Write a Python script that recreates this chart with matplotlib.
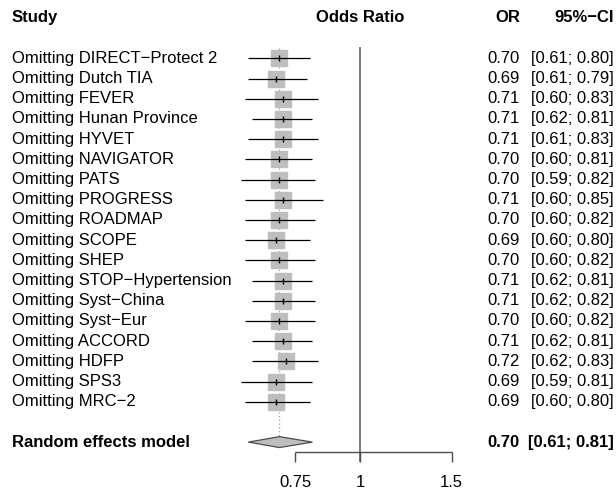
import matplotlib
matplotlib.use('Agg')
import matplotlib.pyplot as plt
import matplotlib.transforms as mtransforms
from matplotlib.patches import Polygon

plt.rcParams['font.family'] = ['Liberation Sans', 'DejaVu Sans']

# Datos (leave-one-out)
estudios = ['DIRECT−Protect 2', 'Dutch TIA', 'FEVER', 'Hunan Province', 'HYVET',
            'NAVIGATOR', 'PATS', 'PROGRESS', 'ROADMAP', 'SCOPE', 'SHEP',
            'STOP−Hypertension', 'Syst−China', 'Syst−Eur', 'ACCORD', 'HDFP',
            'SPS3', 'MRC−2']
or_vals = [0.70, 0.69, 0.71, 0.71, 0.71, 0.70, 0.70, 0.71, 0.70, 0.69, 0.70,
           0.71, 0.71, 0.70, 0.71, 0.72, 0.69, 0.69]
ci_low = [0.61, 0.61, 0.60, 0.62, 0.61, 0.60, 0.59, 0.60, 0.60, 0.60, 0.60,
          0.62, 0.62, 0.60, 0.62, 0.62, 0.59, 0.60]
ci_high = [0.80, 0.79, 0.83, 0.81, 0.83, 0.81, 0.82, 0.85, 0.82, 0.80, 0.82,
           0.81, 0.82, 0.82, 0.81, 0.83, 0.81, 0.80]
re_or, re_low, re_high = 0.70, 0.61, 0.81
ticks = [0.75, 1, 1.5]
tick_labels = ['0.75', '1', '1.5']

W, H = 616, 492
fig = plt.figure(figsize=(W / 100, H / 100), dpi=100)

# Eje del forest plot: escala log, filas en unidades de fila
ax_l, ax_r = 230, 480
ax = fig.add_axes([ax_l / W, 0, (ax_r - ax_l) / W, 1])
ax.set_xscale('log')
ax.set_xlim(0.5625, 1.70)
y0, dy = 58.3, 20.2
ax.set_ylim((H - y0) / dy, -y0 / dy)
ax.axis('off')

n = len(estudios)
filas = list(range(n))
fila_re = n + 1
fila_header = -2

# línea vertical de no efecto
ax.vlines(1, -0.55, fila_re + 1.0, color='#6e6e6e', lw=1.3, zorder=1)
# línea punteada del efecto combinado
ax.vlines(re_or, -0.5, fila_re, color='#a0a0a0', lw=0.9, linestyles=(0, (1, 2)), zorder=1)

# cuadrados, IC y estimación puntual
ax.plot(or_vals, filas, 's', color='#bebebe', markersize=11.5, zorder=2)
ax.hlines(filas, ci_low, ci_high, color='black', lw=0.9, zorder=3)
ax.plot(or_vals, filas, '|', color='black', markersize=4, mew=1.0, zorder=4)

# diamante del modelo
dia = Polygon([(re_low, fila_re), (re_or, fila_re - 0.27), (re_high, fila_re),
               (re_or, fila_re + 0.27)], closed=True,
              facecolor='#bebebe', edgecolor='#4d4d4d', lw=0.9, zorder=3)
ax.add_patch(dia)

# eje x
y_axis = fila_re + 0.5
ax.hlines(y_axis, ticks[0], ticks[-1], color='#4d4d4d', lw=1.0)
ax.vlines(ticks, y_axis, y_axis + 0.5, color='#4d4d4d', lw=1.0)
fs = 12
for t, lab in zip(ticks, tick_labels):
    ax.text(t, fila_re + 2.0, lab, ha='center', va='center', fontsize=fs)

# textos en píxeles (x) y filas (y)
tr = mtransforms.blended_transform_factory(
    mtransforms.Affine2D().scale(1 / W, 1) + fig.transFigure, ax.transData)
x_lab, x_or, x_ci = 12, 520, 614
ax.text(x_lab, fila_header, 'Study', transform=tr, ha='left', va='center', fontsize=fs, fontweight='bold')
ax.text(1, fila_header, 'Odds Ratio', ha='center', va='center', fontsize=fs, fontweight='bold')
ax.text(x_or, fila_header, 'OR', transform=tr, ha='right', va='center', fontsize=fs, fontweight='bold')
ax.text(x_ci, fila_header, '95%−CI', transform=tr, ha='right', va='center', fontsize=fs, fontweight='bold')

for i in filas:
    ax.text(x_lab, i, 'Omitting ' + estudios[i], transform=tr, ha='left', va='center', fontsize=fs)
    ax.text(x_or, i, f'{or_vals[i]:.2f}', transform=tr, ha='right', va='center', fontsize=fs)
    ax.text(x_ci, i, f'[{ci_low[i]:.2f}; {ci_high[i]:.2f}]', transform=tr, ha='right', va='center', fontsize=fs)

ax.text(x_lab, fila_re, 'Random effects model', transform=tr, ha='left', va='center', fontsize=fs, fontweight='bold')
ax.text(x_or, fila_re, f'{re_or:.2f}', transform=tr, ha='right', va='center', fontsize=fs, fontweight='bold')
ax.text(x_ci, fila_re, f'[{re_low:.2f}; {re_high:.2f}]', transform=tr, ha='right', va='center', fontsize=fs, fontweight='bold')

fig.savefig('out.png', dpi=100)
